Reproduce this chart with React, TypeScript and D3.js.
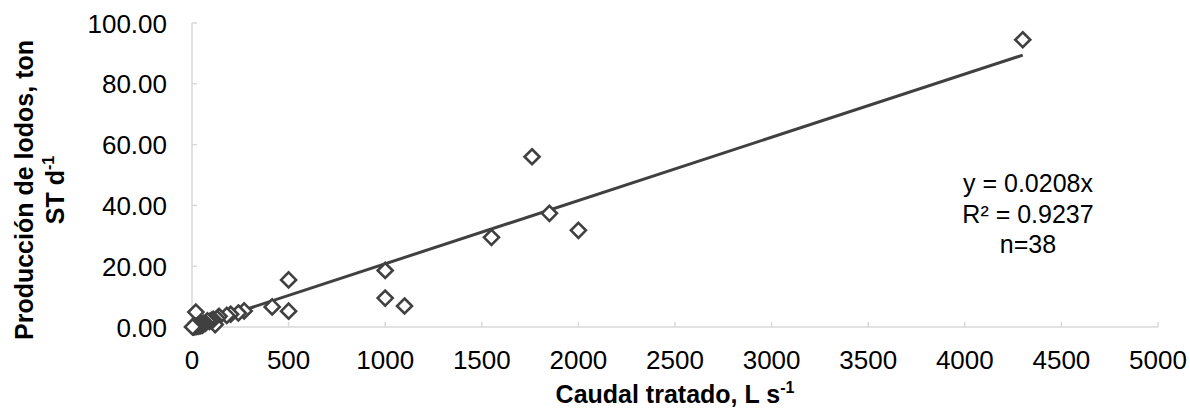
import * as d3 from 'd3';
import React from 'react';

// Caudal tratado (L/s) vs producción de lodos (ton ST/d)
const caudal = [
  4300, 1760, 1850, 1550, 2000, 1000, 1000, 1100, 500, 500, 415, 20,
  270, 240, 200, 180, 140, 130, 120, 110, 100, 90, 80, 70, 60, 55, 50,
  45, 40, 35, 30, 25, 20, 15, 10, 8, 5, 3,
];
const lodos = [
  94.5, 56.0, 37.4, 29.5, 31.8, 18.6, 9.5, 6.9, 15.5, 5.2, 6.6, 4.9,
  5.3, 4.6, 4.2, 3.8, 3.5, 2.8, 0.8, 2.5, 2.2, 1.8, 2.0, 1.3, 1.2, 0.6, 1.0,
  0.4, 0.7, 0.3, 0.5, 0.2, 0.3, 0.1, 0.2, 0.05, 0.1, 0.02,
];
const xTicks = [0, 500, 1000, 1500, 2000, 2500, 3000, 3500, 4000, 4500, 5000];
const yTicks = [0, 20, 40, 60, 80, 100];
const slope = 0.0208;
const eqLines = ['y = 0.0208x', 'R² = 0.9237', 'n=38'];

export default function App() {
  const width = 1190;
  const height = 410;
  const marginLeft = 192;
  const marginRight = 32;
  const marginTop = 23;
  const marginBottom = 83;

  const x = d3.scaleLinear().domain([0, 5000]).range([marginLeft, width - marginRight]);
  const y = d3.scaleLinear().domain([0, 100]).range([height - marginBottom, marginTop]);

  const pts = caudal.map((c, i) => ({ c, l: lodos[i] }));
  const xMax = d3.max(caudal) || 0;
  const line = d3.line<number>().x(d => x(d)).y(d => y(slope * d));

  const axisColor = '#d9d9d9';
  const ink = '#404040';
  const font = 'Liberation Sans, Arial, sans-serif';
  const r = 7.5;

  return (
    <svg width={width} height={height} style={{ position: 'absolute', left: 0, top: 0 }}>
      <rect width={width} height={height} fill="#fff" />
      {/* axes */}
      <line x1={x(0)} x2={x(5000)} y1={y(0)} y2={y(0)} stroke={axisColor} strokeWidth={1.5} />
      <line x1={x(0)} x2={x(0)} y1={y(0)} y2={y(100)} stroke={axisColor} strokeWidth={1.5} />
      {xTicks.map(t => (
        <g key={'x' + t}>
          <line x1={x(t)} x2={x(t)} y1={y(0)} y2={y(0) - 5} stroke={axisColor} strokeWidth={1.5} />
          <text x={x(t)} y={y(0) + 42} textAnchor="middle" fontFamily={font} fontSize={26} fill="#000">{t}</text>
        </g>
      ))}
      {yTicks.map(t => (
        <g key={'y' + t}>
          <line x1={x(0)} x2={x(0) + 5} y1={y(t)} y2={y(t)} stroke={axisColor} strokeWidth={1.5} />
          <text x={x(0) - 25} y={y(t) + 9.5} textAnchor="end" fontFamily={font} fontSize={26} fill="#000">{t.toFixed(2)}</text>
        </g>
      ))}
      {/* trend line */}
      <path d={line([0, xMax]) || ''} fill="none" stroke={ink} strokeWidth={3} />
      {/* points */}
      {pts.map((p, i) => {
        const cx = x(p.c);
        const cy = y(p.l);
        return (
          <path key={i} d={`M${cx},${cy - r}L${cx + r},${cy}L${cx},${cy + r}L${cx - r},${cy}Z`}
            fill="#fff" stroke={ink} strokeWidth={2.6} />
        );
      })}
      {/* equation */}
      {eqLines.map((s, i) => (
        <text key={s} x={1028} y={192 + i * 30.5} textAnchor="middle" fontFamily={font} fontSize={25} fill="#000">{s}</text>
      ))}
      {/* axis titles */}
      <text x={675} y={403} textAnchor="middle" fontFamily={font} fontSize={25} fontWeight="bold" fill="#000">
        Caudal tratado, L s<tspan dy={-10} fontSize={16}>-1</tspan>
      </text>
      <g transform={`translate(33,190) rotate(-90)`}>
        <text x={0} y={0} textAnchor="middle" fontFamily={font} fontSize={25} fontWeight="bold" fill="#000">Producción de lodos, ton</text>
        <text x={0} y={31} textAnchor="middle" fontFamily={font} fontSize={25} fontWeight="bold" fill="#000">
          ST d<tspan dy={-10} fontSize={16}>-1</tspan>
        </text>
      </g>
    </svg>
  );
}
